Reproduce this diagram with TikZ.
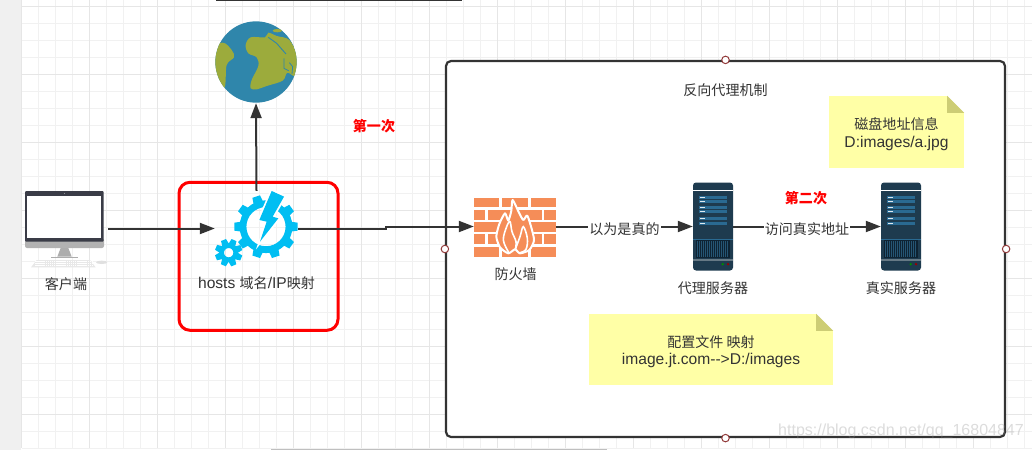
\documentclass[tikz,border=0pt]{standalone}
\usepackage{fontspec}
\setmainfont{Liberation Sans}
\newfontfamily\cjkfont{Noto Sans CJK SC}[Scale=0.9]
\newcommand{\zh}[1]{{\cjkfont #1}}
\newcommand{\notestrut}{\rule{0pt}{16pt}}
\usetikzlibrary{arrows.meta}
\usetikzlibrary{calc}
\definecolor{inkgray}{HTML}{333333}
\definecolor{gridminor}{HTML}{F1F1F1}
\definecolor{gridmajor}{HTML}{E6E6E6}
\definecolor{notefill}{HTML}{FFFFA6}
\definecolor{notefold}{HTML}{CDCD75}
\definecolor{handlered}{HTML}{933B3B}
\definecolor{gearblue}{HTML}{00BEF2}
\definecolor{brickorange}{HTML}{F58D58}
\definecolor{seablue}{HTML}{2F86AB}
\definecolor{landgreen}{HTML}{9CAB3C}
\definecolor{monitordark}{HTML}{3A3C47}
\definecolor{serverdark}{HTML}{1E3B4F}
\definecolor{serverbar}{HTML}{2A6A92}
\definecolor{serververt}{HTML}{0E2333}
\tikzset{serverpic/.pic={
  \begin{scope}[scale=1/3,shift={(-819,-528)}]
    \fill[serverdark,rounded corners=3pt] (759,396) rectangle (879,660);
    \fill[white] (759,417) rectangle (879,419);
    \foreach \ya/\yb in {435/444, 449/458, 465/474, 477/486, 499/508, 513/522}
    {
      \fill[serverbar] (777,\ya) rectangle (861,\yb);
      \fill[white!85!serverbar] (779,\ya+3) rectangle (795,\yb-3);
    }
    \fill[serverbar] (759,564) rectangle (879,566);
    \fill[serververt] (767,568) rectangle (870,622);
    \foreach \xa in {772,778,...,866}
    {
      \fill[serverbar!55!serverdark] (\xa,570) rectangle ++(1.6,50);
    }
    \fill[gray!70!serverbar] (759,624) rectangle (879,630);
    \fill[green!55!black] (848,641) circle (4);
    \fill[red!60!black] (864,641) circle (4);
  \end{scope}
}}
\begin{document}
\begin{tikzpicture}
[x=1pt,y=-1pt,
  icondecorate/.style={shape=rectangle,inner sep=0pt},%
  linedecorate/.style={-{Triangle[length=15pt,width=11pt]},line width=2pt,inkgray},%
  textdecorate/.style={font=\fontsize{15.6}{17.5}\selectfont,text=inkgray,inner sep=0pt,align=center},%
  edgedecorate/.style={textdecorate,fill=white,inner sep=1pt,yshift=-2.5pt},%
  rednote/.style={font=\fontsize{15.6}{17.5}\selectfont\bfseries,text=red,inner sep=0pt},%
  notedecorate/.style={textdecorate,fill=notefill},%
  handledecorate/.style={shape=circle,draw=handlered,fill=white,line width=1pt,inner sep=0pt,minimum size=7.5pt}]
\useasboundingbox (0,0) rectangle (1032,450);
%% canvas with its grid
\fill[white] (0,0) rectangle (1032,450);
\foreach \i in {0,...,60}
{
  \draw[gridminor,line width=0.8pt] ({21.67+17*\i},0) -- ({21.67+17*\i},448);
}
\foreach \i in {0,...,26}
{
  \draw[gridminor,line width=0.8pt] (22,{6+17*\i}) -- (1032,{6+17*\i});
}
\foreach \i in {0,...,15}
{
  \draw[gridmajor,line width=0.8pt] ({21.67+68*\i},0) -- ({21.67+68*\i},448);
}
\foreach \i in {0,...,6}
{
  \draw[gridmajor,line width=0.8pt] (22,{6+68*\i}) -- (1032,{6+68*\i});
}
\fill[black!6] (0,0) rectangle (21,450);
\draw[inkgray,line width=2pt] (216,0) -- (462,0);
\draw[black!25,line width=1.4pt] (271,449.3) -- (607,449.3);
%% frames
\node (proxyframe) at (725.5,249) [draw=inkgray,fill=white,line width=2.2pt,rounded corners=5pt,
  minimum width=559pt,minimum height=376pt] {};
\node (hostsframe) at (258.5,256.3) [draw=red,line width=3pt,rounded corners=11pt,
  minimum width=159pt,minimum height=148pt] {};
%% nodes or vertices
\foreach \nodename/\x/\y/\boxw/\boxh in {client/64.5/228.5/79/77, hosts/256.5/228.5/83/75,
  earth/256/62/82/82, firewall/515/226.5/82/58, proxy/713/226.5/40/88, real/901/226.5/40/88}
{
  \node (\nodename) at (\x,\y) [icondecorate,minimum width=\boxw pt,minimum height=\boxh pt] {};
}
%% monitor
\begin{scope}[scale=1/3]
  \fill[black!30,rounded corners=2pt] (75,715) rectangle (312,744);
  \fill[monitordark,rounded corners=1pt] (75,573) -- (311,573) -- (311,725) -- (75,725) -- cycle;
  \fill[white] (81,587) rectangle (304,715);
  \fill[white] (193,580) circle (1.2);
  \fill[black!32] (182,744) -- (205,744) -- (215,770) -- (172,770) -- cycle;
  \fill[black!32] (153,770) rectangle (234,775);
  \fill[black!9] (110,780) -- (270,780) -- (287,802) -- (93,802) -- cycle;
  \foreach \ykey in {785,791,797}
  {
    \draw[white,line width=0.5pt,dash pattern=on 1.5pt off 0.6pt] (105,\ykey) -- (276,\ykey);
  }
  \fill[black!12] (305,787) ellipse (17 and 5);
%% earth
  \fill[seablue] (768,186) circle (122);
  \begin{scope}
    \clip (768,186) circle (122);
    \fill[landgreen] plot[smooth cycle,tension=0.55] coordinates {(737,135) (752,112) (795,112)
      (805,98) (830,108) (868,120) (892,170) (888,228) (862,218) (848,242) (800,258) (770,268)
      (752,265) (755,240) (775,198) (770,172) (745,160)};
    \fill[landgreen] plot[smooth cycle,tension=0.55] coordinates {(625,150) (668,128) (695,150)
      (702,172) (680,195) (672,265) (630,230)};
    \fill[landgreen] (832,92) ellipse (14 and 5);
    \draw[seablue,line width=0.9pt] (805,112) -- (830,130) -- (858,162);
    \draw[seablue,line width=0.8pt] (852,175) -- (852,205) -- (866,212);
    \draw[seablue,line width=0.8pt] (868,188) -- (878,200) -- (876,222);
  \end{scope}
%% gears
  \begin{scope}[gearblue]
    \foreach \a in {0,36,...,324}
    {
      \fill[rotate around={\a+18:(798,680)}] (786,585) -- (810,585) -- (814,615) -- (782,615) -- cycle;
    }
    \draw[line width=6.8pt] (798,680) circle (69);
    \foreach \a in {0,45,...,315}
    {
      \fill[rotate around={\a+22:(686,758)}] (678,717) -- (694,717) -- (697,735) -- (675,735) -- cycle;
    }
    \draw[line width=4.6pt] (686,758) circle (21);
    \filldraw[draw=white,line width=2.4pt,line join=miter] (815,570) -- (856,588) -- (820,650) -- (838,655)
      -- (778,730) -- (800,666) -- (776,660) -- cycle;
    \fill (815,573) -- (852,590) -- (818,650) -- (835,655) -- (780,725) -- (800,665) -- (778,660) -- cycle;
  \end{scope}
\end{scope}
%% firewall
\begin{scope}[scale=1/3,shift={(1320,150)}]
  \foreach \ya/\yb in {444/472, 517/545, 590/620}
  {
    \foreach \xa/\xb in {102/178, 187/263, 273/348}
    {
      \fill[brickorange] (\xa,\ya) rectangle (\xb,\yb);
    }
  }
  \foreach \ya/\yb in {481/510, 553/583}
  {
    \foreach \xa/\xb in {102/135, 144/220, 229/305, 313/348}
    {
      \fill[brickorange] (\xa,\ya) rectangle (\xb,\yb);
    }
  }
  \filldraw[fill=brickorange,draw=white,line width=2pt,line join=round] plot[smooth cycle,tension=0.4]
    coordinates {(218,450) (238,490) (250,510) (262,497) (276,540) (282,572) (268,600) (240,610)
    (225,598) (205,610) (180,592) (169,560) (178,522) (195,490) (205,512) (214,482)};
  \draw[white,line width=1.6pt,line cap=round] plot[smooth,tension=0.6] coordinates {(205,605) (190,570) (200,530) (210,515) (216,545) (228,575) (226,598)};
  \draw[white,line width=1.6pt,line cap=round] plot[smooth,tension=0.6] coordinates {(226,598) (240,560) (250,530) (262,565) (258,598) (240,608)};
\end{scope}
%% servers
\pic at (proxy) {serverpic};
\pic at (real) {serverpic};
%% notes
\foreach \notename/\x/\y/\boxw/\boxh/\notetext in {diskinfo/896.5/132/135/72/{\notestrut\zh{磁盘地址信息}\\D:images/a.jpg},
  mapinfo/711/349.5/244/71/{\notestrut\zh{配置文件 映射}\\image.jt.com-{}->D:/images}}
{
  \node (\notename) at (\x,\y) [notedecorate,minimum width=\boxw pt,minimum height=\boxh pt] {\notetext};
  \fill[white] (\notename.north east) -- ++(-17,0) -- ++(17,17) -- cycle;
  \fill[notefold] ($(\notename.north east)+(-17,0)$) -- ++(17,17) -- ++(-17,0) -- cycle;
}
%% labels
\foreach \labelname/\x/\y/\labeltext in {clientlabel/66/284/\zh{客户端},
  hostslabel/256.5/283/{hosts \zh{域名}/IP\zh{映射}},
  firewalllabel/515.7/274/\zh{防火墙}, proxylabel/713/288/\zh{代理服务器},
  reallabel/901/288/\zh{真实服务器}, framelabel/725.5/90/\zh{反向代理机制}}
{
  \node (\labelname) at (\x,\y) [textdecorate] {\labeltext};
}
\node (firstnote) at (374,126) [rednote] {\zh{第一次}};
\node (secondnote) at (806,198) [rednote] {\zh{第二次}};
%% edges or lines
\coordinate (hostsbend) at (386,228.5);
\draw[linedecorate,shorten <=4pt] (client.east) -- (hosts.west);
\draw[linedecorate] (hosts.north) -- (earth.south);
\draw[linedecorate] (hosts.east) -- (hostsbend) |- (firewall.west);
\path
\foreach \startnode/\endnode/\edgetext in {firewall/proxy/\zh{以为是真的}, proxy/real/\zh{访问真实地址}}
{
  (\startnode.east) edge[linedecorate] node[edgedecorate] {\edgetext} (\endnode.west)
};
%% handles on the frame
\foreach \handlename/\anchorname in {handletop/north, handleleft/west, handleright/east, handlebottom/south}
{
  \node (\handlename) at (proxyframe.\anchorname) [handledecorate] {};
}
%% watermark
\node (watermark) at (901,431) [font=\fontsize{16}{18}\selectfont,text=black!45,opacity=0.3,inner sep=0pt]
  {https://blog.csdn.net/qq\_16804847};
\end{tikzpicture}
\end{document}
